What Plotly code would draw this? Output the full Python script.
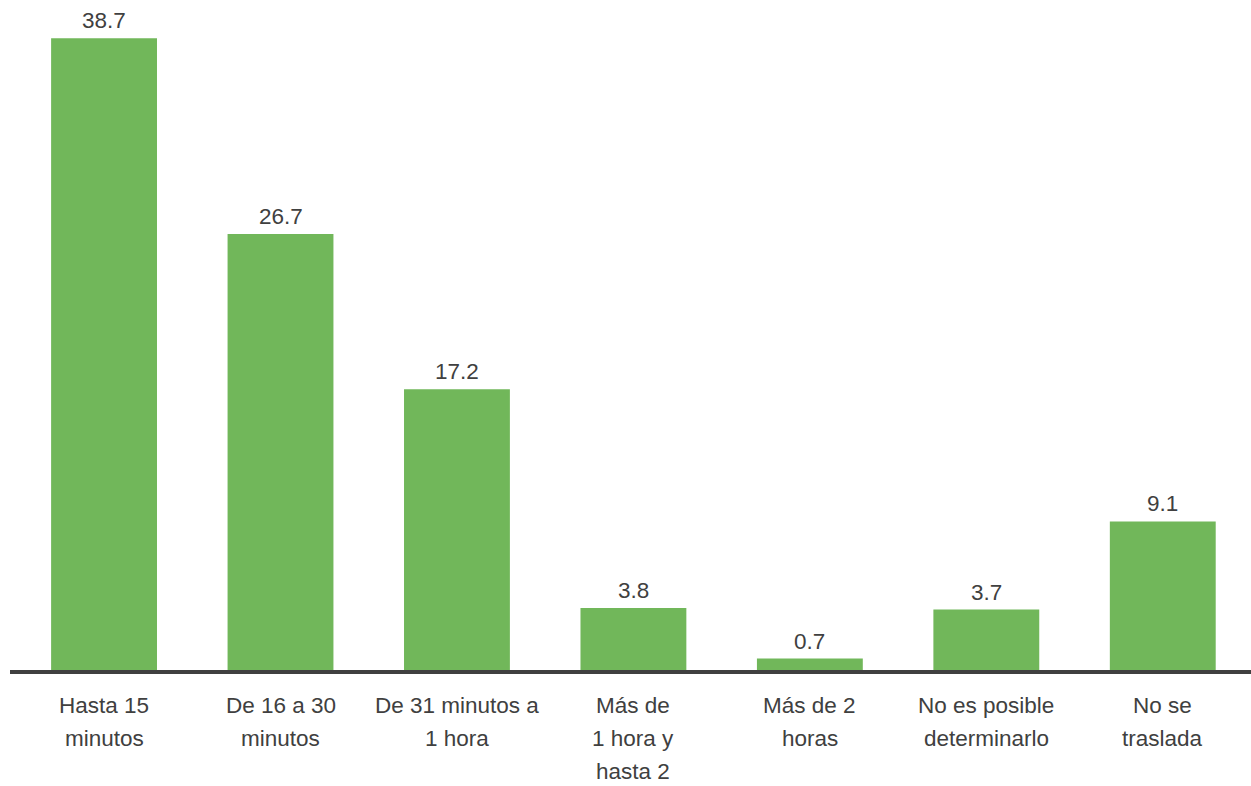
import plotly.graph_objects as go

categories = ["Hasta 15<br>minutos", "De 16 a 30<br>minutos", "De 31 minutos a<br>1 hora",
              "Más de<br>1 hora y<br>hasta 2", "Más de 2<br>horas", "No es posible<br>determinarlo",
              "No se<br>traslada"]
values = [38.7, 26.7, 17.2, 3.8, 0.7, 3.7, 9.1]
value_labels = ["38.7", "26.7", "17.2", "3.8", "0.7", "3.7", "9.1"]

BAR = "#71b75a"
TXT = "#404040"
FONT = "Liberation Sans, Arial, sans-serif"
FS = 22.5

fig = go.Figure()
fig.add_trace(go.Bar(x=list(range(len(categories))), y=values, marker_color=BAR,
                     marker_line_width=0, hoverinfo="skip"))

annotations = []
for i, (v, t) in enumerate(zip(values, value_labels)):
    annotations.append(dict(x=i, y=v, xref="x", yref="y", text=t, showarrow=False,
                            yanchor="bottom", yshift=3,
                            font=dict(family=FONT, size=FS, color=TXT)))
for i, c in enumerate(categories):
    for j, line in enumerate(c.split("<br>")):
        annotations.append(dict(x=i, y=0, xref="x", yref="y", text=line, showarrow=False,
                                yanchor="middle", yshift=-35 - 33 * j, borderpad=0,
                                font=dict(family=FONT, size=FS, color=TXT)))

fig.update_layout(
    width=1251, height=786,
    margin=dict(l=10, r=0, t=17, b=116),
    paper_bgcolor="white", plot_bgcolor="white",
    bargap=0.4,
    showlegend=False,
    annotations=annotations,
    xaxis=dict(range=[-0.533, 6.5], showticklabels=False, showgrid=False, zeroline=False,
               showline=True, linecolor=TXT, linewidth=4, ticks=""),
    yaxis=dict(range=[0, 40], visible=False, showgrid=False, zeroline=False),
)

fig.write_html("out.html", config={"displayModeBar": False},
               post_script="document.body.style.margin='0';")
